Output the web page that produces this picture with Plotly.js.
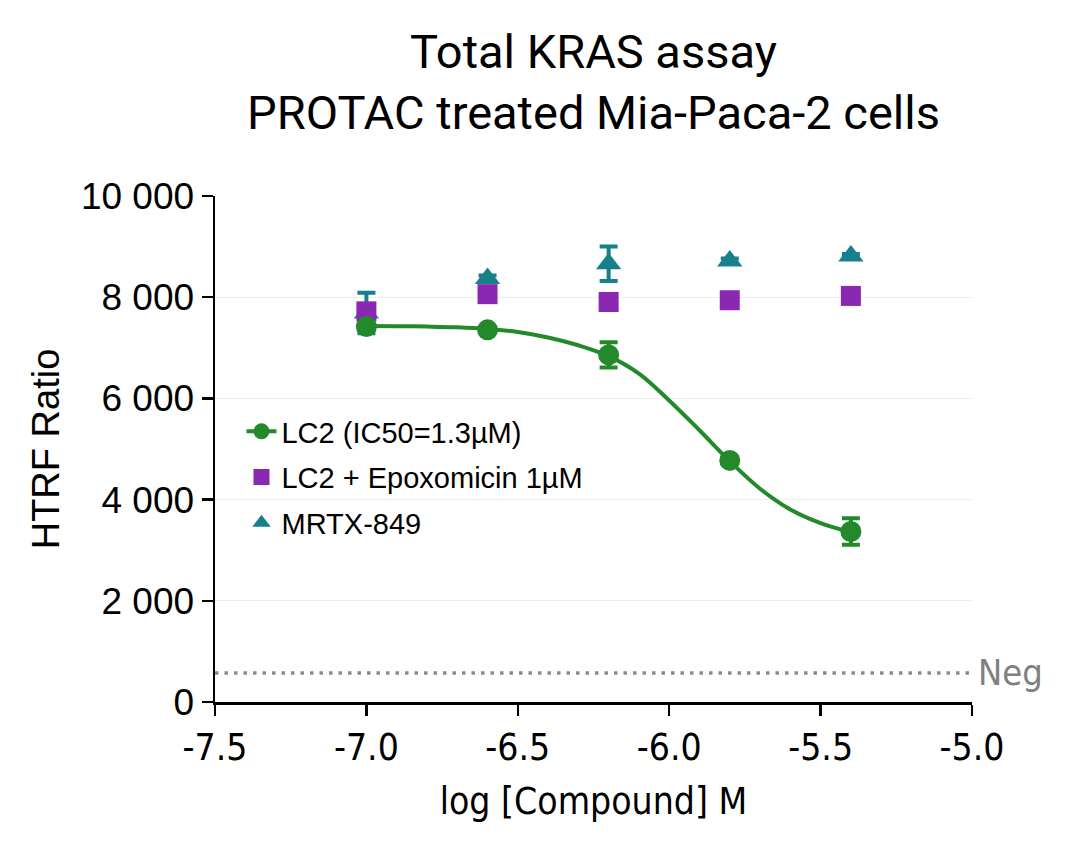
<!DOCTYPE html>
<html>
<head>
<meta charset="utf-8">
<script src="https://cdn.plot.ly/plotly-3.0.1.min.js"></script>
<style>html,body{margin:0;padding:0;background:#fff;}#chart{width:1080px;height:847px;}</style>
</head>
<body>
<div id="chart"></div>
<script>
// Doses (log M)
const doses = [-7.0, -6.6, -6.2, -5.8, -5.4];

// LC2 (IC50=1.3µM)
const lc2Mean = [7420, 7355, 6860, 4775, 3370];
const lc2Err  = [60, 50, 250, 60, 260];

// LC2 + Epoxomicin 1µM
const epoMean = [7720, 8060, 7905, 7940, 8025];
const epoErr  = [80, 60, 60, 110, 60];

// MRTX-849
const mrtxMean = [7690, 8370, 8660, 8715, 8815];
const mrtxErr  = [400, 60, 340, 50, 40];

// Fitted curve for LC2
const curveX = [-7.0, -6.9, -6.8, -6.7, -6.6, -6.5, -6.4, -6.3, -6.2, -6.1, -6.0, -5.9, -5.8, -5.7, -5.6, -5.5, -5.4];
const curveY = [7433, 7428, 7420, 7405, 7372, 7312, 7205, 7050, 6835, 6490, 5960, 5370, 4760, 4215, 3805, 3535, 3355];

// Negative control level
const negLevel = 575;
const negLabel = "Neg";

// Axis ticks
const xTickVals = [-7.5, -7.0, -6.5, -6.0, -5.5, -5.0];
const xTickText = ["-7.5", "-7.0", "-6.5", "-6.0", "-5.5", "-5.0"];
const yTickVals = [0, 2000, 4000, 6000, 8000, 10000];
const yTickText = ["0", "2 000", "4 000", "6 000", "8 000", "10 000"];

const GREEN = "#238a2c";
const PURPLE = "#8a27b3";
const TEAL = "#17808b";

// isolate points so 'lines+markers' draws no connecting segments (for legend icon)
function isolate(arr) {
  const out = [];
  arr.forEach((v, i) => { out.push(v); if (i < arr.length - 1) out.push(null); });
  return out;
}

const traces = [
  {
    x: doses, y: mrtxMean, type: "scatter", mode: "markers",
    name: "MRTX-849", legendrank: 3, legendgroup: "c",
    marker: {symbol: "triangle-up", size: 22, color: TEAL},
    error_y: {type: "data", array: mrtxErr, visible: true, color: TEAL, thickness: 4, width: 9}
  },
  {
    x: doses, y: epoMean, type: "scatter", mode: "markers",
    name: "LC2 + Epoxomicin 1µM", legendrank: 2, legendgroup: "b",
    marker: {symbol: "square", size: 20, color: PURPLE},
    error_y: {type: "data", array: epoErr, visible: true, color: PURPLE, thickness: 4, width: 9}
  },
  {
    x: [xTickVals[0], xTickVals[xTickVals.length - 1]], y: [negLevel, negLevel],
    type: "scatter", mode: "lines", showlegend: false, hoverinfo: "skip",
    line: {color: "#8a8a8a", width: 3.5, dash: "3.5px,6px"}
  },
  {
    x: curveX, y: curveY, type: "scatter", mode: "lines", showlegend: false,
    line: {color: GREEN, width: 4, shape: "spline"}
  },
  {
    x: isolate(doses), y: isolate(lc2Mean), type: "scatter", mode: "lines+markers",
    name: "LC2 (IC50=1.3µM)", legendrank: 1, legendgroup: "a",
    line: {color: GREEN, width: 4},
    marker: {symbol: "circle", size: 21, color: GREEN},
    error_y: {type: "data", array: isolate(lc2Err), visible: true, color: GREEN, thickness: 4, width: 9}
  }
];

const condFont = "DejaVu Sans Condensed, Liberation Sans Narrow, sans-serif";
const axisFont = {family: condFont, size: 37, color: "#000"};

const layout = {
  width: 1080, height: 847,
  paper_bgcolor: "#fff", plot_bgcolor: "#fff",
  margin: {l: 215, r: 108, t: 196, b: 145},
  showlegend: true,
  title: {
    text: "Total KRAS assay<br>PROTAC treated Mia-Paca-2 cells",
    font: {family: "Roboto, Inter, sans-serif", size: 47, color: "#000"},
    x: 0.5, xanchor: "center", xref: "paper",
    y: 0.92, yanchor: "top", yref: "container"
  },
  xaxis: {
    range: [-7.5, -5.0],
    tickvals: xTickVals, ticktext: xTickText,
    showgrid: false, zeroline: false,
    showline: true, linecolor: "#000", linewidth: 2.5,
    ticks: "outside", ticklen: 11, tickwidth: 2.5, tickcolor: "#000",
    tickfont: axisFont,
    title: {text: "log [Compound] M", font: axisFont, standoff: 20}
  },
  yaxis: {
    range: [0, 10000],
    tickvals: yTickVals, ticktext: yTickText,
    showgrid: true, gridcolor: "#eeeeee", gridwidth: 1,
    zeroline: false,
    showline: true, linecolor: "#000", linewidth: 2.5,
    ticks: "outside", ticklen: 11, tickwidth: 2.5, tickcolor: "#000",
    tickfont: {family: "Liberation Sans, Arial, sans-serif", size: 37, color: "#000"},
    title: {text: "HTRF Ratio", font: {family: "Liberation Sans, Arial, sans-serif", size: 38, color: "#000"}, standoff: 10}
  },
  legend: {
    x: 0.035, y: 0.585, xanchor: "left", yanchor: "top",
    bgcolor: "rgba(0,0,0,0)", borderwidth: 0,
    font: {family: "Liberation Sans, Arial, sans-serif", size: 29, color: "#000"},
    traceorder: "grouped", tracegroupgap: 5, itemwidth: 30
  },
  annotations: [{
    xref: "paper", yref: "y", x: 1.0, y: negLevel, xanchor: "left", yanchor: "middle",
    xshift: 4, text: negLabel, showarrow: false,
    font: {family: condFont, size: 36, color: "#808080"}
  }]
};

Plotly.newPlot("chart", traces, layout, {displayModeBar: false, staticPlot: true});
</script>
</body>
</html>
